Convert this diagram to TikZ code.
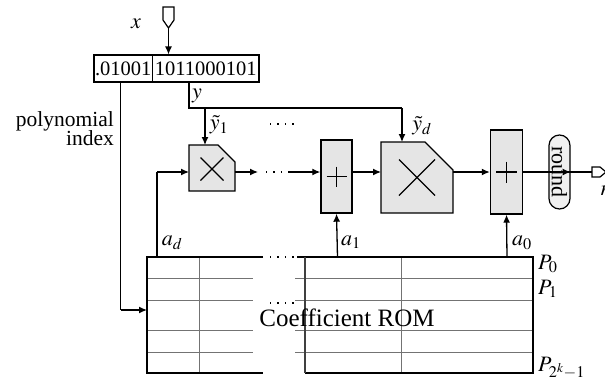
\documentclass[tikz,border=0pt]{standalone}
\usepackage{mathptmx}
\usepackage{fontspec}
\setmainfont{Liberation Serif}
\usetikzlibrary{arrows.meta,shapes.misc,calc}
\begin{document}
\begin{tikzpicture}[x=1pt,y=-1pt,
  lab/.style={font=\fontsize{22}{20}\selectfont, inner sep=0pt},
  wire/.style={line width=1.3pt},
  arr/.style={wire,-{Latex[length=8pt,width=7pt]}},
  blk/.style={draw, line width=1.4pt, fill=black!10},
  romo/.style={line width=1.9pt},
  romi/.style={line width=1pt, draw=black!55},
  dots/.style={line width=1.4pt, dash pattern=on 1.4pt off 6pt},
  sym/.style={line width=1.2pt}]
\useasboundingbox (0,0) rectangle (605,381);

% input port
\draw[line width=1.2pt] (163,7)--(174,7)--(174,20)--(168.5,28)--(163,20)--cycle;
\coordinate (xin) at (168.5,28);
\node[lab] (xl) at (136,24) {$x$};

% register
\node[draw, line width=1.1pt, minimum width=58.5pt, minimum height=27pt, inner sep=0pt,
  font=\fontsize{20.5}{20}\selectfont] (regL) at (123.25,68.5) {.01001};
\node[draw, line width=1.1pt, minimum width=106.5pt, minimum height=27pt, inner sep=0pt,
  font=\fontsize{20.5}{20}\selectfont] (regR) at (205.75,68.5) {1011000101};
\draw[arr] (xin) -- (xin |- regR.north);

% multipliers and adders
\path[blk] (189,145)--(218,145)--(235,162)--(235,191)--(189,191)--cycle;
\coordinate (m1) at (212,169);
\draw[sym] ($(m1)+(-11.5,-11.5)$)--($(m1)+(11.5,11.5)$) ($(m1)+(-11.5,11.5)$)--($(m1)+(11.5,-11.5)$);

\node[blk, minimum width=31pt, minimum height=73pt, inner sep=0pt] (add1) at (336.5,176.5) {};
\draw[sym] ($(add1.center)+(-10,0)$)--($(add1.center)+(10,0)$) ($(add1.center)+(0,-10)$)--($(add1.center)+(0,10)$);

\path[blk] (381,142)--(425,142)--(453,170)--(453,213)--(381,213)--cycle;
\coordinate (m2) at (417,177.5);
\draw[sym] ($(m2)+(-18,-18)$)--($(m2)+(18,18)$) ($(m2)+(-18,18)$)--($(m2)+(18,-18)$);

\node[blk, minimum width=32pt, minimum height=84pt, inner sep=0pt] (add2) at (506.5,172) {};
\draw[sym] ($(add2.center)+(-10.5,0)$)--($(add2.center)+(10.5,0)$) ($(add2.center)+(0,-10.5)$)--($(add2.center)+(0,10.5)$);

\node[draw, line width=1.2pt, fill=black!6, rounded rectangle, rotate=-90,
  minimum width=74pt, minimum height=21pt, inner sep=0pt,
  font=\fontsize{22}{20}\selectfont] (rnd) at (559.5,172) {round};

% output port
\draw[line width=1.2pt] (592,167)--(600,167)--(606,172)--(600,177)--(592,177)--cycle;
\coordinate (out) at (592,172);
\node[lab, anchor=west] (rl) at (600,191) {$r$};

% y path
\coordinate (yb) at (189,82);
\coordinate (yc) at (189,108);
\coordinate (y1) at (205,108);
\coordinate (yd) at (402,108);
\draw[wire] (yb) -- (yc) -- (yd);
\draw[arr] (y1) -- (205,145);
\draw[arr] (yd) -- (402,142);
\node[lab] (yl) at (197,96) {$y$};
\node[lab] (y1l) at (219,125) {$\tilde{y}_1$};
\node[lab] (ydl) at (422,126) {$\tilde{y}_d$};
\draw[dots] (270,124) -- (294,124);

% data path
\draw[arr] (235,172) -- (258,172);
\draw[dots] (266,172) -- (290,172);
\draw[arr] (288,172) -- (add1.west |- 0,172);
\draw[arr] (add1.east |- 0,172) -- (381,172);
\draw[arr] (453,172) -- (add2.west);
\draw[arr] (add2.east) -- (rnd.north);
\draw[wire] (rnd.south) -- (out);

% polynomial index
\node[font=\fontsize{21.5}{20}\selectfont, inner sep=0pt, align=right, anchor=east] (pi) at (114,129) {polynomial\\[-1pt]index};
\draw[wire] (120.5,82) -- (120.5,310);
\draw[arr] (120.5,310) -- (147,310);

% ROM
\coordinate (romL) at (147,257);
\foreach \yy in {278,300,330,352} {
  \draw[romi] (147,\yy) -- (253,\yy);
  \draw[romi] (295,\yy) -- (533,\yy);
}
\draw[romi] (199,257) -- (199,373);
\draw[romi] (401,257) -- (401,373);
\draw[romo] (263,257) -- (147,257) -- (147,373) -- (263,373);
\draw[romo] (297,257) -- (533,257) -- (533,373) -- (305,373);
\draw[romi, draw=black!75, line width=1.2pt] (305,257) -- (305,373);
\draw[dots] (270,257) -- (294,257);
\draw[dots] (270,303) -- (296,303);
\node[font=\fontsize{25}{25}\selectfont, inner sep=0pt] (rom) at (347,318) {Coefficient ROM};

% coefficient outputs
\draw[wire] (157,257) -- (157,172);
\draw[arr] (157,172) -- (189,172);
\draw[arr] (337.5,257) -- (add1.south);
\draw[arr] (507,257) -- (add2.south);
\node[lab] (adl) at (172,243) {$a_d$};
\node[lab] (a1l) at (351,242) {$a_1$};
\node[lab] (a0l) at (522,243) {$a_0$};

\node[lab, anchor=west] (p0) at (538,264) {$P_0$};
\node[lab, anchor=west] (p1) at (538,289) {$P_1$};
\node[lab, anchor=west] (pk) at (538,368) {$P_{2^k-1}$};
\end{tikzpicture}
\end{document}
